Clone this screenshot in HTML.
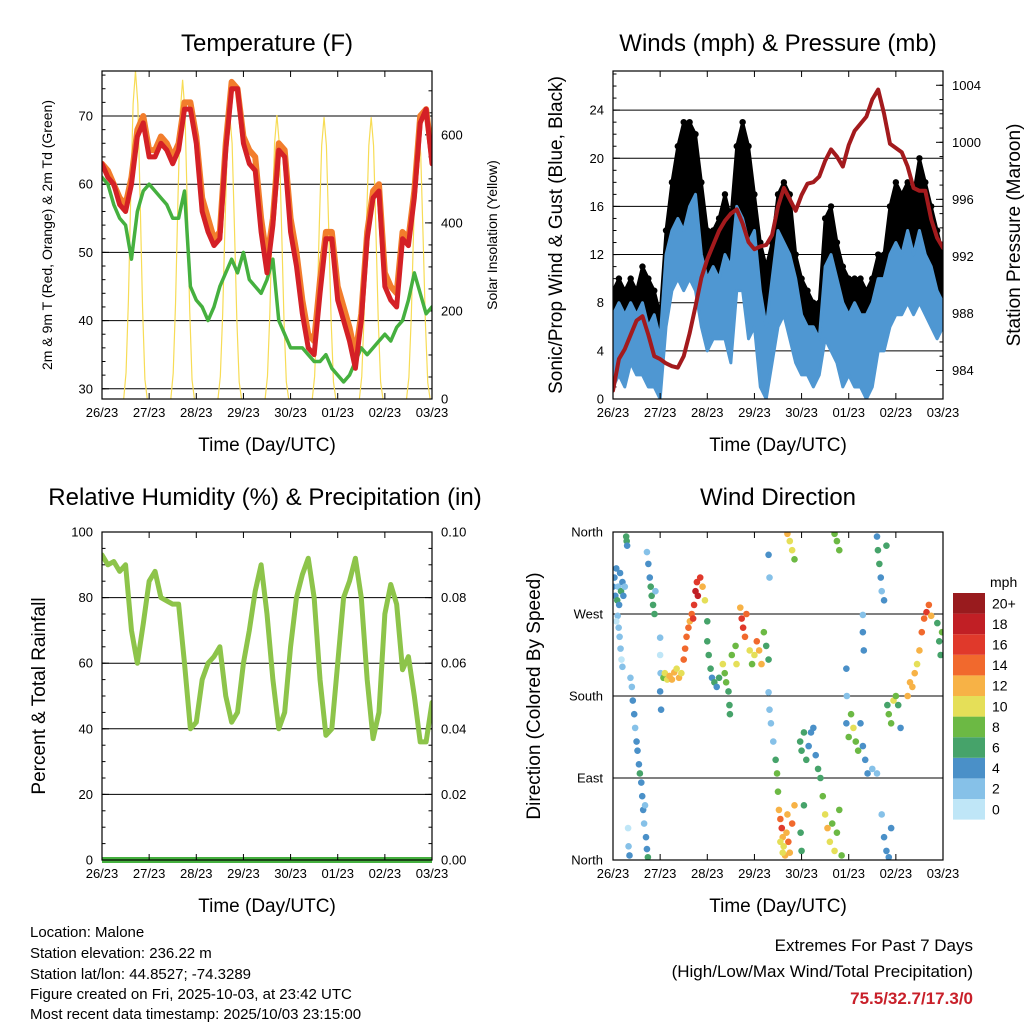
<!DOCTYPE html>
<html><head><meta charset="utf-8">
<style>
body{margin:0;background:#fff;}
svg{display:block;font-family:"Liberation Sans",sans-serif;}
</style></head>
<body>
<svg id="c" width="1024" height="1024" viewBox="0 0 1024 1024" xmlns="http://www.w3.org/2000/svg">
<g font-size="15" fill="#000">
<text x="30" y="937">Location: Malone</text>
<text x="30" y="958">Station elevation: 236.22 m</text>
<text x="30" y="979">Station lat/lon: 44.8527; -74.3289</text>
<text x="30" y="999">Figure created on Fri, 2025-10-03, at 23:42 UTC</text>
<text x="30" y="1019">Most recent data timestamp: 2025/10/03 23:15:00</text>
<text x="973" y="951" text-anchor="end" font-size="17">Extremes For Past 7 Days</text>
<text x="973" y="977" text-anchor="end" font-size="17">(High/Low/Max Wind/Total Precipitation)</text>
<text x="973" y="1004" text-anchor="end" font-size="17" font-weight="bold" fill="#c8202a">75.5/32.7/17.3/0</text>
</g>
</svg>
<script>
const dayLabels=["26/23","27/23","28/23","29/23","30/23","01/23","02/23","03/23"];
const tempRed=[63,61,60,57,56,60,67,69,64,64,66,65,63,65,71,71,66,56,53,51,52,65,74,74,66,63,62,53,47,54,65,64,53,48,41,36,35,44,52,52,43,40,37,33,40,52,58,59,45,43,42,52,51,58,69,71,63];
const tempOrange=[63,62,60,58,57,61,68,70,65,65,67,66,64,66,72,72,67,58,55,52,53,66,75,74,67,65,64,55,49,55,66,65,55,50,43,38,37,46,53,53,45,42,39,35,41,53,59,60,47,45,44,53,52,59,70,71,64];
const dewGreen=[61,60,57,55,54,49,56,59,60,59,58,57,55,55,59,45,43,42,40,42,45,47,49,47,50,46,45,44,46,49,40,38,36,36,36,35,34,34,35,33,32,31,32,34,36,35,36,37,38,37,39,40,43,47,44,41,42];
const solarPeak=[745,725,645,645,640,640,620];
const solarProfile=[0,0.08,0.3,0.62,0.9,1,0.9,0.6,0.28,0.06,0];
const pressure=[982.6,984.8,985.5,986.5,987.5,987.8,986.5,985.0,984.8,984.5,984.3,984.2,985.0,986.6,988.5,990.5,991.8,992.8,993.8,994.5,995.0,995.3,994.3,993.0,992.5,992.7,992.8,993.5,995.5,996.8,996.0,995.2,996.3,997.1,997.2,997.6,998.7,999.5,999.0,998.3,999.8,1000.8,1001.3,1001.8,1003.0,1003.7,1002.0,999.9,999.6,999.3,998.3,996.8,996.6,996.6,994.6,993.3,992.6];
const windHigh=[7,8,7,8,7,8,6,7,5,12,14,15,14,16,17,12,10,11,10,12,11,16,15,13,14,9,6,10,14,13,12,10,7,6,6,5,11,12,10,8,7,8,7,7,8,10,10,12,13,12,14,12,14,12,11,9,8];
const windLow=[1,2,1,3,2,2,1,1,0,6,9,10,9,10,9,6,4,5,5,5,3,9,9,5,6,1,0,3,6,7,5,3,2,2,1,2,5,4,3,1,2,1,1,0,1,4,4,6,7,7,8,7,8,7,6,5,6];
const gust=[9,10,9,10,9,11,10,9,7,14,18,21,23,23,22,18,14,14,15,17,15,21,23,21,17,13,11,13,17,18,17,12,10,9,8,8,15,16,13,11,10,10,10,9,10,12,12,16,18,17,18,17,20,18,16,14,12];
const rh=[93,90,91,88,90,70,60,72,85,88,80,79,78,78,60,40,42,55,60,62,65,50,42,45,60,70,82,90,75,55,40,45,65,80,87,92,80,55,38,40,60,80,85,92,80,55,37,45,75,84,78,58,62,50,36,36,48];
const precip=[0,0,0,0,0,0,0,0];
const dirDay=[
0.00,0.03,0.05,0.07,0.09,0.11,0.13,0.15,0.17,0.20,0.22,0.25,
0.28,0.29,0.30,
0.10,0.12,0.14,0.16,0.18,0.20,0.07,
0.37,0.40,0.42,0.45,0.47,0.50,
0.52,0.55,0.57,0.60,0.62,0.64,0.66,0.70,0.72,0.74,0.68,
0.32,0.33,0.35,
0.72,0.75,0.78,0.80,0.82,0.85,0.88,0.90,
1.00,1.00,1.01,1.00,1.02,
1.07,1.10,1.15,1.20,1.25,1.30,1.35,1.40,1.45,
1.50,1.53,1.56,1.60,1.63,1.67,1.70,
1.72,1.75,1.78,1.80,1.85,1.90,1.95,
2.00,2.00,2.03,2.07,2.10,2.15,2.20,2.25,
2.33,2.37,2.40,2.45,2.47,2.48,2.52,2.60,2.62,
2.70,2.73,2.76,2.80,2.83,
2.90,2.95,3.00,3.05,3.10,3.15,3.20,3.25,3.30,
3.30,3.32,
3.30,3.32,3.35,3.40,3.45,3.48,
3.50,3.52,3.55,3.58,3.60,3.62,3.65,3.68,3.70,3.72,3.75,3.80,3.85,3.55,3.60,
3.70,3.75,3.80,3.85,
3.97,4.00,4.05,4.10,4.15,4.20,4.25,4.30,4.35,4.40,4.05,3.98,4.00,
4.45,4.50,4.55,4.60,4.65,4.70,4.75,4.80,4.85,
4.70,4.75,4.80,
4.95,4.96,4.95,5.00,5.05,5.10,5.15,5.20,5.25,5.30,5.35,5.40,5.50,5.60,
5.30,5.30,5.32,
5.60,5.62,5.65,5.68,5.70,5.75,5.80,
5.70,5.75,5.80,5.85,5.90,
5.82,5.85,5.90,5.95,6.00,6.05,6.10,
6.25,6.30,6.35,6.40,6.45,6.50,6.55,6.60,6.65,6.70,6.75,
6.88,6.92,6.95,6.98];
const dirDeg=[
300,310,290,320,285,300,280,315,295,305,290,300,
355,350,345,
268,255,245,232,220,212,262,
200,190,175,160,145,130,
120,105,95,85,70,55,40,25,12,3,60,
35,15,5,
338,325,310,300,290,280,270,295,
244,225,205,185,165,
200,205,198,202,198,206,210,200,205,
220,232,245,255,262,270,265,
280,295,305,290,310,300,285,
262,240,225,210,200,195,190,200,
215,205,195,185,170,160,225,235,215,
277,265,255,245,270,
230,215,225,240,230,215,250,235,220,
335,310,
184,165,150,130,110,95,
75,55,45,35,25,15,5,30,50,20,8,40,60,20,8,
358,350,340,330,
130,120,140,110,125,140,145,115,100,90,60,30,10,
70,50,35,20,40,10,30,55,5,
358,350,340,
210,180,150,135,160,145,130,120,150,125,110,95,100,95,
269,250,230,
355,340,325,310,295,285,345,
50,25,10,3,35,
170,160,150,175,180,170,145,
180,195,190,205,215,230,250,265,272,280,268,
260,240,225,250];
const dirSpd=[
4,4,5,4,6,3,4,5,6,4,4,3,
6,6,5,
2,3,2,2,1,2,1,
3,2,4,4,3,4,
4,5,6,4,4,5,3,4,5,6,2,
1,2,4,
3,4,4,6,6,7,6,2,
2,1,3,4,4,
8,10,10,12,12,12,10,12,11,
14,14,15,14,13,15,16,
16,18,17,18,16,12,10,
6,6,6,6,5,6,4,7,
10,9,8,7,6,6,9,8,10,
12,16,16,15,14,
10,8,10,14,12,12,8,6,6,
4,3,
3,2,2,3,6,8,
8,12,14,16,12,10,12,13,12,14,12,14,12,11,10,
12,10,10,9,
6,7,6,6,4,4,4,4,6,6,7,7,7,
8,10,12,10,9,10,8,8,9,
8,9,8,
4,3,4,8,9,10,8,8,4,4,4,4,2,2,
3,4,4,
4,6,6,4,3,4,6,
3,4,4,5,4,
6,8,9,10,8,7,4,
12,12,13,12,11,12,14,14,16,15,12,
7,6,6,8];
const speedBins=[0,2,4,6,8,10,12,14,16,18,20];
const speedLabels=["0","2","4","6","8","10","12","14","16","18","20+"];
const speedColors=["#bfe6f7","#86c1e8","#4a90c8","#46a36a","#6cb944","#e5df58","#f7b246","#f1692d","#e0392b","#c11f25","#991b1e"];

const NS="http://www.w3.org/2000/svg";
const svg=document.getElementById('c');
function mk(tag,attrs,parent){const e=document.createElementNS(NS,tag);for(const k in attrs)e.setAttribute(k,attrs[k]);(parent||svg).appendChild(e);return e;}
function txt(x,y,s,attrs,parent){const t=mk('text',Object.assign({x:x,y:y},attrs||{}),parent);t.textContent=s;return t;}
const DPX=330/7;

function panel(name,x0,x1,y0,y1){
  const g=mk('g',{});
  
  
  const cid='clip-'+name;
  const cp=mk('clipPath',{id:cid},g);mk('rect',{x:x0,y:y0,width:x1-x0,height:y1-y0},cp);
  return {g:g,x0:x0,x1:x1,y0:y0,y1:y1,clip:'url(#'+cid+')'};
}
function frame(p){
  const r=mk('rect',{x:p.x0,y:p.y0,width:p.x1-p.x0,height:p.y1-p.y0,fill:'none',stroke:'#000','stroke-width':1.2},p.g);
  
  
}
function xAxis(p){
  const ag=mk('g',{},p.g);
  
  
  dayLabels.forEach((d,i)=>{
    const x=p.x0+i*DPX;
    mk('line',{x1:x,x2:x,y1:p.y1,y2:p.y1-6,stroke:'#000'},ag);
    mk('line',{x1:x,x2:x,y1:p.y0,y2:p.y0+6,stroke:'#000'},ag);
    const t=txt(x,p.y1+18,d,{'font-size':13,'text-anchor':'middle'},ag);
    
    
  });
  const tt=txt((p.x0+p.x1)/2,p.y1+52,'Time (Day/UTC)',{'font-size':19,'text-anchor':'middle'},ag);
  
  
}
function yAxis(p,side,min,max,major,minor,fmt,grid){
  const ag=mk('g',{},p.g);
  
  
  const ys=v=>p.y1-(v-min)/(max-min)*(p.y1-p.y0);
  const xe=side==='left'?p.x0:p.x1, dir=side==='left'?1:-1;
  for(let v=Math.ceil(min/minor)*minor; v<=max+1e-9; v+=minor){
    const y=ys(v);
    mk('line',{x1:xe,x2:xe+dir*3.5,y1:y,y2:y,stroke:'#000'},ag);
  }
  for(let v=Math.ceil(min/major)*major; v<=max+1e-9; v+=major){
    const y=ys(v);
    if(grid) mk('line',{x1:p.x0,x2:p.x1,y1:y,y2:y,stroke:'#000','stroke-width':1},p.g);
    mk('line',{x1:xe,x2:xe+dir*7,y1:y,y2:y,stroke:'#000'},ag);
    const t=txt(side==='left'?xe-9:xe+9,y+4.5,fmt(v),{'font-size':13,'text-anchor':side==='left'?'end':'start'},ag);
    
    
  }
  return ys;
}
function title(p,s,cx){
  const t=txt(cx||(p.x0+p.x1)/2,51,s,{'font-size':24,'text-anchor':'middle'},p.g);
  
  
  return t;
}
function vtitle(x,y,s,size,p){
  const t=txt(x,y,s,{'font-size':size,'text-anchor':'middle',transform:'rotate(-90 '+x+' '+y+')'},p.g);
  
  
  return t;
}
function poly(p,xs,ys,arr,attrs,name){
  const pts=arr.map((v,i)=>xs(i/8)+','+ys(v)).join(' ');
  const e=mk('polyline',Object.assign({points:pts,fill:'none','stroke-linejoin':'round','stroke-linecap':'round','clip-path':p.clip},attrs),p.g);
  
  
  return e;
}
function band(p,xs,ys,lo,hi,fill,name){
  const a=hi.map((v,i)=>xs(i/8)+','+ys(v));
  const b=lo.map((v,i)=>xs(i/8)+','+ys(v)).reverse();
  const e=mk('polygon',{points:a.concat(b).join(' '),fill:fill,stroke:fill,'stroke-width':3,'stroke-linejoin':'round','clip-path':p.clip},p.g);
  
  
}

/* Panel 1: Temperature */
{
const p=panel('temperature-chart',102,432,71,399);
title(p,'Temperature (F)',267);
const xs=d=>p.x0+d*DPX;
const ys=yAxis(p,'left',28.5,76.6,10,2,v=>String(v),true);
const yr=yAxis(p,'right',0,745,200,50,v=>String(v),false);
solarPeak.forEach((pk,d)=>{
  const pts=solarProfile.map((f,k)=>xs(d+0.46+k*0.05)+','+yr(pk*f)).join(' ');
  const e=mk('polyline',{points:pts,fill:'none',stroke:'#f7dc55','stroke-width':1.2,'clip-path':p.clip},p.g);
  
  
});
poly(p,xs,ys,dewGreen,{stroke:'#45b03f','stroke-width':3.5},'dewpoint-line');
poly(p,xs,ys,tempOrange,{stroke:'#f27d2c','stroke-width':6},'temp-9m-line');
poly(p,xs,ys,tempRed,{stroke:'#d42026','stroke-width':5},'temp-2m-line');
frame(p);xAxis(p);
vtitle(52,235,'2m & 9m T (Red, Orange) & 2m Td (Green)',14,p);
vtitle(497,235,'Solar Insolation (Yellow)',14,p);
}
/* Panel 2: Winds */
{
const p=panel('winds-pressure-chart',613,943,71,399);
title(p,'Winds (mph) & Pressure (mb)',778);
const xs=d=>p.x0+d*DPX;
const ys=yAxis(p,'left',0,27.25,4,1,v=>String(v),true);
const yp=yAxis(p,'right',982.0,1005.0,4,1,v=>String(v),false);
band(p,xs,ys,windHigh,gust,'#000','gust-points');
gust.forEach((v,i)=>{
  const c=mk('circle',{cx:xs(i/8),cy:ys(v),r:3.2,fill:'#000','clip-path':p.clip},p.g);
  
  
});
band(p,xs,ys,windLow,windHigh,'#4f97d2','wind-speed-band');
poly(p,xs,yp,pressure,{stroke:'#a31a1d','stroke-width':4},'pressure-line');
frame(p);xAxis(p);
vtitle(562,235,'Sonic/Prop Wind & Gust (Blue, Black)',19,p);
vtitle(1020,235,'Station Pressure (Maroon)',19,p);
}
/* Panel 3: RH */
{
const p=panel('humidity-precip-chart',102,432,532,860);
const tt=txt(265,505,'Relative Humidity (%) & Precipitation (in)',{'font-size':24,'text-anchor':'middle'},p.g);


const xs=d=>p.x0+d*DPX;
const ys=yAxis(p,'left',0,100,20,5,v=>String(v),true);
yAxis(p,'right',0,0.1,0.02,0.005,v=>v.toFixed(2),false);
poly(p,xs,ys,rh,{stroke:'#8dc44a','stroke-width':5},'humidity-line');
const pp=precip.map((v,i)=>xs(i)+','+ys(v*1000)).join(' ');
const pl=mk('polyline',{points:pp,fill:'none',stroke:'#45b03f','stroke-width':6},p.g);


frame(p);xAxis(p);
vtitle(45,696,'Percent & Total Rainfall',19,p);
}
/* Panel 4: Wind direction */
{
const p=panel('wind-direction-chart',613,943,532,860);
const tt=txt(778,505,'Wind Direction',{'font-size':24,'text-anchor':'middle'},p.g);


const xs=d=>p.x0+d*DPX;
const ys=v=>p.y1-v/360*(p.y1-p.y0);
const names=['North','East','South','West','North'];
names.forEach((n,i)=>{
  const y=ys(i*90);
  mk('line',{x1:p.x0,x2:p.x1,y1:y,y2:y,stroke:'#000'},p.g);
  const t=txt(p.x0-10,y+4.5,n,{'font-size':13,'text-anchor':'end'},p.g);
  
  
});
function colorFor(s){let k=0;for(let j=0;j<speedBins.length;j++){if(s>=speedBins[j])k=j;}return speedColors[k];}
dirDay.forEach((d,i)=>{
  const c=mk('circle',{cx:xs(d),cy:ys(dirDeg[i]),r:3.3,fill:colorFor(dirSpd[i]),'clip-path':p.clip},p.g);
  
  
});
frame(p);xAxis(p);
vtitle(540,696,'Direction (Colored By Speed)',19,p);
const cb=mk('g',{},p.g);


txt(990,587,'mph',{'font-size':14},cb);
const h=20.6;
for(let i=0;i<speedColors.length;i++){
  const y=593+(speedColors.length-1-i)*h;
  const r=mk('rect',{x:953,y:y,width:32,height:h,fill:speedColors[i]},cb);
  
  
  const t=txt(992,y+h/2+5,speedLabels[i],{'font-size':14},cb);
  
  
}
}
</script>
</body></html>
